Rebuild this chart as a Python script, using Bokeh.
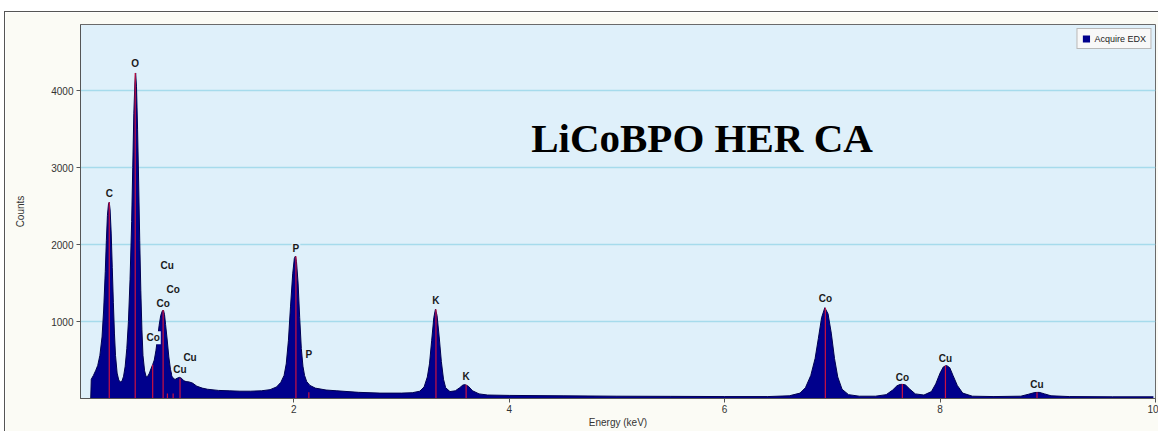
from bokeh.plotting import figure
from bokeh.models import FixedTicker, Legend, LegendItem, ColumnDataSource
from bokeh.core.properties import value
from bokeh.embed import file_html
from bokeh.resources import INLINE

# EDX spectrum outline (energy in keV, counts)
energy_kev = [0.115, 0.12, 0.14, 0.16, 0.18, 0.20, 0.22, 0.235, 0.25, 0.26, 0.27, 0.28, 0.287,
              0.295, 0.305, 0.315, 0.325, 0.335, 0.345, 0.36, 0.375, 0.39, 0.405, 0.42, 0.435,
              0.45, 0.465, 0.48, 0.495, 0.505, 0.515, 0.525, 0.532, 0.54, 0.55, 0.56, 0.57,
              0.58, 0.59, 0.60, 0.615, 0.63, 0.645, 0.66, 0.675, 0.69, 0.705, 0.72, 0.735,
              0.75, 0.765, 0.78, 0.79, 0.80, 0.81, 0.825, 0.84, 0.855, 0.87, 0.885, 0.90,
              0.92, 0.94, 0.96, 0.98, 1.00, 1.03, 1.06, 1.10, 1.15, 1.2, 1.3, 1.4, 1.5, 1.6,
              1.7, 1.78, 1.84, 1.88, 1.91, 1.93, 1.95, 1.97, 1.99, 2.005, 2.015, 2.025, 2.04,
              2.055, 2.07, 2.085, 2.10, 2.12, 2.15, 2.2, 2.3, 2.4, 2.6, 2.8, 3.0, 3.1, 3.17,
              3.21, 3.24, 3.26, 3.28, 3.30, 3.315, 3.33, 3.35, 3.37, 3.39, 3.41, 3.45, 3.5,
              3.54, 3.57, 3.59, 3.62, 3.66, 3.72, 3.8, 4.0, 4.5, 5.0, 5.5, 6.0, 6.4, 6.6,
              6.7, 6.75, 6.8, 6.84, 6.87, 6.9, 6.93, 6.96, 6.99, 7.02, 7.05, 7.09, 7.15,
              7.25, 7.4, 7.5, 7.56, 7.6, 7.64, 7.68, 7.72, 7.77, 7.85, 7.92, 7.96, 8.0,
              8.03, 8.06, 8.09, 8.12, 8.16, 8.21, 8.3, 8.5, 8.75, 8.82, 8.88, 8.92, 8.97,
              9.03, 9.2, 9.6, 9.98]
counts = [0, 250, 300, 360, 430, 560, 800, 1150, 1650, 2050, 2380, 2530, 2550,
          2450, 2150, 1700, 1250, 850, 560, 330, 240, 215, 225, 290, 420,
          650, 1000, 1550, 2300, 3000, 3700, 4100, 4230, 4050, 3500, 2800, 2050,
          1400, 900, 560, 360, 280, 290, 330, 390, 440, 500, 620, 780,
          950, 1080, 1140, 1150, 1090, 960, 760, 540, 380, 290, 255, 250,
          265, 275, 260, 230, 220, 215, 200, 160, 135, 120, 105, 100, 95, 95,
          100, 115, 150, 210, 300, 450, 750, 1200, 1620, 1820, 1850, 1780, 1500,
          1050, 650, 420, 300, 220, 170, 135, 110, 100, 80, 70, 70, 75, 95,
          150, 280, 450, 750, 1050, 1160, 1080, 800, 480, 250, 140, 90, 100,
          140, 175, 180, 160, 100, 60, 45, 40, 35, 30, 28, 25, 25, 35,
          70, 140, 300, 520, 780, 1050, 1180, 1100, 850, 520, 280, 120, 50,
          30, 30, 50, 110, 165, 190, 175, 120, 60, 45, 90, 190, 330,
          410, 430, 400, 300, 170, 70, 30, 25, 30, 55, 78, 80, 60,
          35, 25, 22, 22]

# Identified line markers
marker_energy = [0.287, 0.528, 0.69, 0.787, 0.827, 0.88, 0.944, 2.02, 2.14, 3.32, 3.60,
                 6.935, 7.65, 8.05, 8.90]
marker_height = [2550, 4230, 440, 1155, 65, 65, 260, 1850, 80, 1160, 180,
                 1180, 190, 430, 80]

# Element labels
label_text = ["C", "O", "Cu", "Co", "Co", "Co", "Cu", "Cu", "P", "P", "K", "K",
              "Co", "Co", "Cu", "Cu"]
label_energy = [0.287, 0.528, 0.824, 0.88, 0.787, 0.694, 1.037, 0.944, 2.02, 2.14, 3.32, 3.60,
                6.935, 7.65, 8.05, 8.90]
label_counts = [2660, 4350, 1730, 1415, 1235, 790, 530, 375, 1950, 570, 1270, 285,
                1300, 275, 520, 180]

title_text = "LiCoBPO HER CA"
x_ticks = [2, 4, 6, 8, 10]
y_ticks = [1000, 2000, 3000, 4000]

p = figure(width=1154, height=420, output_backend="svg", toolbar_location=None,
           x_range=(0.02, 10), y_range=(0, 4860),
           min_border_left=75, min_border_top=12, min_border_right=4, min_border_bottom=34,
           background_fill_color="#dff0fa", border_fill_color="#fbfbf5",
           margin=(11, 0, 0, 4),
           styles={"border-top": "1px solid #555555", "border-left": "1px solid #555555"})

p.outline_line_color = "#6a6a6a"
p.outline_line_width = 1

spec = ColumnDataSource(dict(x=energy_kev, y=counts, y0=[0] * len(counts)))
area = p.varea(x="x", y1="y0", y2="y", source=spec, fill_color="#00008c")
p.line(x="x", y="y", source=spec, line_color="#000050", line_width=1)

p.segment(x0=marker_energy, y0=[0] * len(marker_energy), x1=marker_energy, y1=marker_height,
          line_color="#cc1040", line_width=1.2)

p.text(x=label_energy, y=label_counts, text=label_text, text_align="center",
       text_baseline="middle", text_font=value("Liberation Sans"), text_font_size="10px",
       text_font_style="bold", text_color="#1a1a1a",
       background_fill_color="#dff0fa", padding=1)

p.text(x=[5.79], y=[3390], text=[title_text], text_align="center", text_baseline="middle",
       text_font=value("Liberation Serif"), text_font_size="41px", text_font_style="bold",
       text_color="#000000")

# axes
p.xaxis.ticker = FixedTicker(ticks=x_ticks)
p.yaxis.ticker = FixedTicker(ticks=y_ticks)
for ax in (p.xaxis, p.yaxis):
    ax.axis_line_color = "#555555"
    ax.major_tick_line_color = "#555555"
    ax.major_tick_out = 4
    ax.major_tick_in = 0
    ax.minor_tick_line_color = None
    ax.major_label_text_font = "Liberation Sans"
    ax.major_label_text_font_size = "10px"
    ax.major_label_text_color = "#333333"
    ax.axis_label_text_font = "Liberation Sans"
    ax.axis_label_text_font_size = "10px"
    ax.axis_label_text_font_style = "normal"
    ax.axis_label_text_color = "#333333"
p.xaxis.axis_label = "Energy (keV)"
p.yaxis.axis_label = "Counts"
p.xaxis.major_label_standoff = 2
p.xaxis.axis_label_standoff = 1
p.yaxis.major_label_standoff = 3
p.yaxis.axis_label_standoff = 22

p.xgrid.grid_line_color = None
p.ygrid.grid_line_color = "#a6dbec"
p.ygrid.grid_line_width = 1.5

legend = Legend(items=[LegendItem(label="Acquire EDX", renderers=[area])],
                location="top_right", margin=4, padding=4, spacing=0,
                glyph_width=9, glyph_height=9, label_standoff=4,
                label_text_font="Liberation Sans", label_text_font_size="9px",
                label_text_color="#222222", label_height=11,
                background_fill_color="#f8f8f8", background_fill_alpha=1,
                border_line_color="#777777")
p.add_layout(legend)

open("out.html", "w").write(file_html(p, INLINE))
